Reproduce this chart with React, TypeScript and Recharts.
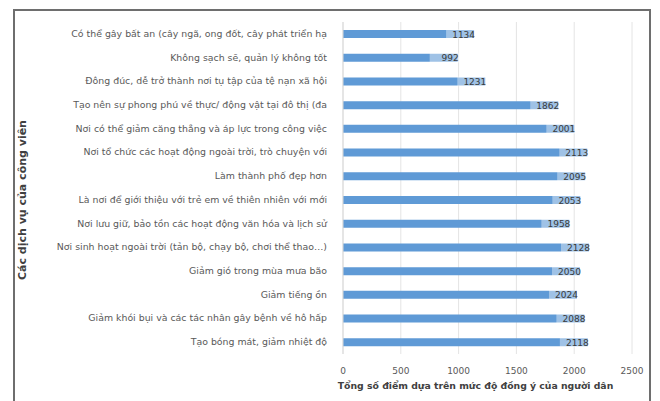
import { BarChart, Bar, XAxis, YAxis, CartesianGrid, LabelList } from "recharts";

const categories = [
  "Có thể gây bất an (cây ngã, ong đốt, cây phát triển hạ",
  "Không sạch sẽ, quản lý không tốt",
  "Đông đúc, dễ trở thành nơi tụ tập của tệ nạn xã hội",
  "Tạo nên sự phong phú về thực/ động vật tại đô thị (đa",
  "Nơi có thể giảm căng thẳng và áp lực trong công việc",
  "Nơi tổ chức các hoạt động ngoài trời, trò chuyện  với",
  "Làm thành phố đẹp hơn",
  "Là nơi để giới thiệu với trẻ em về thiên nhiên với mới",
  "Nơi lưu giữ, bảo tồn các hoạt động văn hóa và lịch sử",
  "Nơi sinh hoạt ngoài trời (tản bộ, chạy bộ, chơi thể thao…)",
  "Giảm gió trong mùa mưa bão",
  "Giảm tiếng ồn",
  "Giảm khói bụi và các tác nhân gây bệnh về hô hấp",
  "Tạo bóng mát, giảm nhiệt độ",
];

const scores = [1134, 992, 1231, 1862, 2001, 2113, 2095, 2053, 1958, 2128, 2050, 2024, 2088, 2118];

const xTicks = [0, 500, 1000, 1500, 2000, 2500];

const data = categories.map((name, i) => ({ name, score: scores[i] }));

const FONT = "DejaVu Sans, Liberation Sans, sans-serif";

const CategoryTick = (props: any) => {
  const { x, y, payload } = props;
  return (
    <text x={x - 8} y={y + 3} textAnchor="end" fontSize={9.4} fill="#595959" fontFamily={FONT}>
      {payload.value}
    </text>
  );
};

const ValueLabel = (props: any) => {
  const { x, y, width, height, value } = props;
  const end = x + width;
  const w = 30;
  return (
    <g>
      <rect x={end - w + 2} y={y - 1} width={w} height={height + 2} fill="#ffffff" fillOpacity={0.4} />
      <text x={end + 1} y={y + height / 2 + 3.5} textAnchor="end" fontSize={9} fill="#3a3a3a" fontFamily={FONT}>
        {value}
      </text>
    </g>
  );
};

export default function App() {
  return (
    <div style={{ position: "absolute", left: 0, top: 0, width: 660, height: 401, background: "#fff", overflow: "hidden" }}>
      <div
        style={{
          position: "absolute",
          left: 13,
          top: 9,
          width: 634,
          height: 400,
          border: "2px solid #6e6e6e",
        }}
      />
      <div style={{ position: "absolute", left: 0, top: 0 }}>
        <BarChart
          width={660}
          height={401}
          data={data}
          layout="vertical"
          margin={{ top: 22, right: 28, bottom: 17, left: 0 }}
          barSize={8}
          style={{ fontFamily: FONT }}
        >
          <CartesianGrid stroke="#e4e4e4" horizontal={false} />
          <XAxis
            type="number"
            domain={[0, 2500]}
            ticks={xTicks}
            height={30}
            axisLine={false}
            tickLine={false}
            tick={{ fill: "#595959", fontSize: 9 }}
            tickMargin={8}
            label={{
              value: "Tổng số điểm dựa trên mức độ đồng ý của người dân",
              position: "insideBottom",
              offset: -5,
              dx: -12,
              style: { fill: "#404040", fontSize: 9.3, fontWeight: "bold" },
            }}
          />
          <YAxis
            type="category"
            dataKey="name"
            width={343}
            axisLine={{ stroke: "#d9d9d9" }}
            tickLine={false}
            interval={0}
            tick={<CategoryTick />}
            label={{
              value: "Các dịch vụ của công viên",
              angle: -90,
              position: "insideLeft",
              dx: 17,
              dy: 92,
              style: { fill: "#404040", fontSize: 11, fontWeight: "bold" },
            }}
          />
          <Bar dataKey="score" fill="#5f9ad6" isAnimationActive={false}>
            <LabelList dataKey="score" content={<ValueLabel />} />
          </Bar>
        </BarChart>
      </div>
    </div>
  );
}
